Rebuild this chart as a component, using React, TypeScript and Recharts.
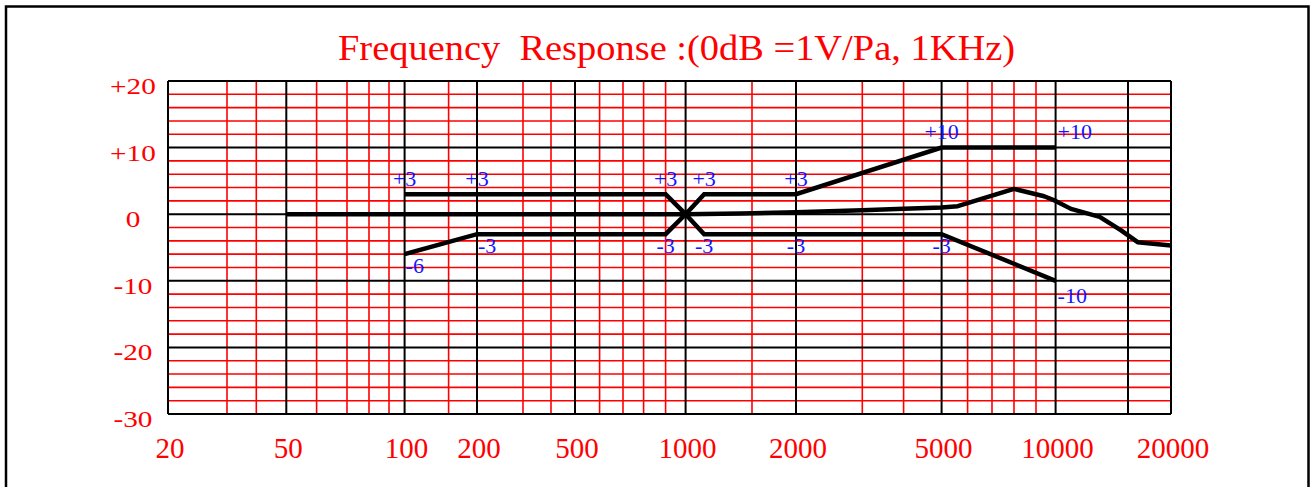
import React from "react";
import { LineChart, Line, XAxis, YAxis, ReferenceLine, LabelList } from "recharts";

// measured response of the capsule (Hz / dB)
const responseFreq = [50, 1000, 1400, 2000, 3000, 4000, 5000, 5600, 8000, 9400, 10000, 10900, 12800, 14400, 16000, 20000];
const responseDb = [0, 0, 0.1, 0.3, 0.6, 0.8, 1.0, 1.2, 3.8, 2.7, 2.0, 0.8, -0.4, -2.4, -4.2, -4.7];

// tolerance mask
const upperFreq = [100, 200, 900, 1000, 1120, 2000, 5000, 10000];
const upperDb = [3, 3, 3, 0, 3, 3, 10, 10];
const lowerFreq = [100, 200, 900, 1000, 1120, 2000, 5000, 10000];
const lowerDb = [-6, -3, -3, 0, -3, -3, -3, -10];

const xTickLabels = [20, 50, 100, 200, 500, 1000, 2000, 5000, 10000, 20000];
const yTickLabels = [20, 10, 0, -10, -20, -30];

const majorFreqs = [20, 50, 100, 200, 500, 1000, 2000, 5000, 10000, 15000, 20000];
const minorFreqs = [30, 40, 60, 70, 80, 90, 150, 300, 400, 600, 700, 800, 900, 1500, 3000, 4000, 6000, 7000, 8000, 9000];
const majorDb = [20, 10, 0, -10, -20, -30];
const minorDb = [18, 16, 14, 12, 8, 6, 4, 2, -2, -4, -6, -8, -12, -14, -16, -18, -22, -24, -26, -28];

// the printed paper is not a true log axis, so place each grid line where it is drawn
const PAPER_FREQ = [20, 30, 40, 50, 60, 70, 80, 90, 100, 150, 200, 300, 400, 500, 600, 700, 800, 900, 1000, 1500, 2000, 3000, 4000, 5000, 6000, 7000, 8000, 9000, 10000, 15000, 20000];
const PAPER_POS = [0, 59, 88.3, 118.3, 148.6, 179, 201, 221, 236.6, 280.6, 309, 355, 383, 407, 431.6, 455, 475.6, 497.6, 517.6, 584, 628, 694.3, 735.6, 773.6, 799.6, 824, 846, 868, 887.6, 960, 1003];
const PAPER_END = 1003;

function paperX(f: number) {
  const lf = Math.log10(f);
  const n = PAPER_FREQ.length;
  for (let i = 0; i < n - 1; i++) {
    const a = Math.log10(PAPER_FREQ[i]);
    const b = Math.log10(PAPER_FREQ[i + 1]);
    if (lf <= b || i === n - 2) {
      return PAPER_POS[i] + ((lf - a) / (b - a)) * (PAPER_POS[i + 1] - PAPER_POS[i]);
    }
  }
  return 0;
}

const toPoints = (fs: number[], ds: number[]) => fs.map((f, i) => ({ x: paperX(f), y: ds[i] }));

const response = toPoints(responseFreq, responseDb);
const upper = toPoints(upperFreq, upperDb);
const lower = toPoints(lowerFreq, lowerDb);

const RED = "#ff0000";
const BLUE = "#1414ff";
const SERIF = "'Liberation Serif', 'Times New Roman', serif";

function XTick(props: any) {
  const { x, index } = props;
  return (
    <text x={x + 2} y={448} textAnchor="middle" dominantBaseline="central" fill={RED} fontSize={29} fontFamily={SERIF}>
      {xTickLabels[index]}
    </text>
  );
}

function YTick(props: any) {
  const { y, payload } = props;
  const v = payload.value;
  const label = v > 0 ? `+${v}` : `${v}`;
  return (
    <text
      transform={`translate(133 ${y + 5}) scale(1.22 1)`}
      textAnchor="middle"
      dominantBaseline="central"
      fill={RED}
      fontSize={24}
      fontFamily={SERIF}
    >
      {label}
    </text>
  );
}

function tolLabel(side: "up" | "down", count: number) {
  return (props: any) => {
    const { x, y, value, index } = props;
    if (value === 0) return null;
    const text = value > 0 ? `+${value}` : `${value}`;
    const last = index === count - 1;
    let anchor: "start" | "middle" = "middle";
    let dx = 0;
    if (last) {
      anchor = "start";
      dx = 2;
    } else if (side === "down" && index < 2) {
      anchor = "start";
      dx = 1;
    }
    const dy = side === "up" ? -16 : last ? 15 : 11;
    return (
      <text
        key={`${side}-${index}`}
        x={x + dx}
        y={y + dy}
        textAnchor={anchor}
        dominantBaseline="central"
        fill={BLUE}
        fontSize={22}
        fontFamily={SERIF}
      >
        {text}
      </text>
    );
  };
}

export default function App() {
  return (
    <div style={{ position: "absolute", left: 0, top: 0, width: 1310, height: 487, overflow: "hidden", background: "#fff" }}>
      <LineChart width={1310} height={487} margin={{ top: 81, right: 139, left: 0, bottom: 0 }}>
        <XAxis
          type="number"
          dataKey="x"
          domain={[0, PAPER_END]}
          ticks={xTickLabels.map(paperX)}
          interval={0}
          tick={<XTick />}
          axisLine={false}
          tickLine={false}
          height={73}
          allowDataOverflow
        />
        <YAxis
          type="number"
          domain={[-30, 20]}
          ticks={yTickLabels}
          interval={0}
          tick={<YTick />}
          axisLine={false}
          tickLine={false}
          width={168}
          allowDataOverflow
        />
        {minorFreqs.map((f) => (
          <ReferenceLine key={`vf${f}`} x={paperX(f)} stroke={RED} strokeWidth={1.6} />
        ))}
        {minorDb.map((d) => (
          <ReferenceLine key={`hd${d}`} y={d} stroke={RED} strokeWidth={1.6} />
        ))}
        {majorFreqs.map((f) => (
          <ReferenceLine key={`VF${f}`} x={paperX(f)} stroke="#000" strokeWidth={2} />
        ))}
        {majorDb.map((d) => (
          <ReferenceLine key={`HD${d}`} y={d} stroke="#000" strokeWidth={2} />
        ))}
        <Line
          data={response}
          dataKey="y"
          type="linear"
          stroke="#000"
          strokeWidth={4.5}
          strokeLinejoin="round"
          dot={false}
          isAnimationActive={false}
        />
        <Line data={upper} dataKey="y" type="linear" stroke="#000" strokeWidth={4.5} dot={false} isAnimationActive={false}>
          <LabelList dataKey="y" content={tolLabel("up", upper.length)} />
        </Line>
        <Line data={lower} dataKey="y" type="linear" stroke="#000" strokeWidth={4.5} dot={false} isAnimationActive={false}>
          <LabelList dataKey="y" content={tolLabel("down", lower.length)} />
        </Line>
      </LineChart>
      <svg width={1310} height={487} style={{ position: "absolute", left: 0, top: 0, pointerEvents: "none" }}>
        <rect x={6} y={6.5} width={1302.5} height={700} fill="none" stroke="#000" strokeWidth={2.5} />
        <text
          x={676.5}
          y={60}
          textAnchor="middle"
          fill={RED}
          fontSize={35}
          fontFamily={SERIF}
          textLength={677}
          lengthAdjust="spacingAndGlyphs"
          style={{ whiteSpace: "pre" }}
        >
          {"Frequency  Response :(0dB =1V/Pa, 1KHz)"}
        </text>
      </svg>
    </div>
  );
}
